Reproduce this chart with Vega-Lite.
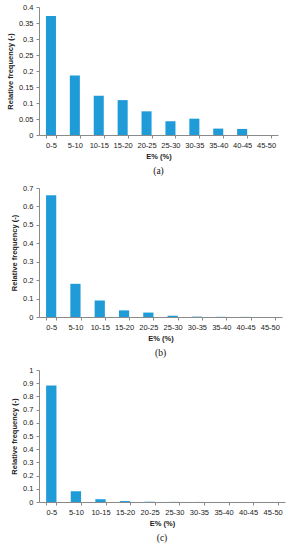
{
  "$schema": "https://vega.github.io/schema/vega-lite/v6.json",
  "padding": {"left": 6, "top": 3, "right": 4, "bottom": 2},
  "background": "white",
  "spacing": 8,
  "align": "none",
  "datasets": {
    "a": [
      {"bin": "0-5", "f": 0.372}, {"bin": "5-10", "f": 0.186}, {"bin": "10-15", "f": 0.123},
      {"bin": "15-20", "f": 0.109}, {"bin": "20-25", "f": 0.074}, {"bin": "25-30", "f": 0.043},
      {"bin": "30-35", "f": 0.051}, {"bin": "35-40", "f": 0.020}, {"bin": "40-45", "f": 0.019},
      {"bin": "45-50", "f": 0.0}
    ],
    "b": [
      {"bin": "0-5", "f": 0.66}, {"bin": "5-10", "f": 0.18}, {"bin": "10-15", "f": 0.089},
      {"bin": "15-20", "f": 0.036}, {"bin": "20-25", "f": 0.024}, {"bin": "25-30", "f": 0.007},
      {"bin": "30-35", "f": 0.002}, {"bin": "35-40", "f": 0.001}, {"bin": "40-45", "f": 0.0005},
      {"bin": "45-50", "f": 0.0}
    ],
    "c": [
      {"bin": "0-5", "f": 0.882}, {"bin": "5-10", "f": 0.081}, {"bin": "10-15", "f": 0.021},
      {"bin": "15-20", "f": 0.007}, {"bin": "20-25", "f": 0.002}, {"bin": "25-30", "f": 0.001},
      {"bin": "30-35", "f": 0.0005}, {"bin": "35-40", "f": 0.0}, {"bin": "40-45", "f": 0.0},
      {"bin": "45-50", "f": 0.0}
    ]
  },
  "config": {
    "view": {"stroke": null},
    "font": "Liberation Sans",
    "axis": {
      "grid": false,
      "domainColor": "#8a8a8a",
      "tickColor": "#8a8a8a",
      "labelColor": "#222",
      "labelFontSize": 7.5,
      "titleFontSize": 7.5,
      "titleFontWeight": "bold",
      "titleColor": "#222",
      "tickSize": 3,
      "labelPadding": 3
    },
    "title": {"font": "Liberation Serif", "fontSize": 9.5, "fontWeight": "normal", "color": "#111", "orient": "bottom", "offset": 6}
  },
  "vconcat": [
    {
      "title": "(a)",
      "width": 239, "height": 128,
      "data": {"name": "a"},
      "mark": {"type": "bar", "color": "#1f9bd8"},
      "encoding": {
        "x": {"field": "bin", "type": "nominal", "sort": null, "title": "E% (%)",
              "scale": {"paddingInner": 0.58, "paddingOuter": 0.29},
              "axis": {"labelAngle": 0, "tickBand": "extent", "titlePadding": 4}},
        "y": {"field": "f", "type": "quantitative", "title": "Relative frequency (-)",
              "scale": {"domain": [0, 0.4]}, "axis": {"values": [0, 0.05, 0.1, 0.15, 0.2, 0.25, 0.3, 0.35, 0.4], "format": "~g", "titlePadding": 4}}
      }
    },
    {
      "title": "(b)",
      "width": 243, "height": 129,
      "data": {"name": "b"},
      "mark": {"type": "bar", "color": "#1f9bd8"},
      "encoding": {
        "x": {"field": "bin", "type": "nominal", "sort": null, "title": "E% (%)",
              "scale": {"paddingInner": 0.58, "paddingOuter": 0.29},
              "axis": {"labelAngle": 0, "tickBand": "extent", "titlePadding": 4}},
        "y": {"field": "f", "type": "quantitative", "title": "Relative frequency (-)",
              "scale": {"domain": [0, 0.7]}, "axis": {"values": [0, 0.1, 0.2, 0.3, 0.4, 0.5, 0.6, 0.7], "format": "~g", "titlePadding": 4}}
      }
    },
    {
      "title": "(c)",
      "width": 246, "height": 132,
      "data": {"name": "c"},
      "mark": {"type": "bar", "color": "#1f9bd8"},
      "encoding": {
        "x": {"field": "bin", "type": "nominal", "sort": null, "title": "E% (%)",
              "scale": {"paddingInner": 0.58, "paddingOuter": 0.29},
              "axis": {"labelAngle": 0, "tickBand": "extent", "titlePadding": 4}},
        "y": {"field": "f", "type": "quantitative", "title": "Relative frequency (-)",
              "scale": {"domain": [0, 1]}, "axis": {"values": [0, 0.1, 0.2, 0.3, 0.4, 0.5, 0.6, 0.7, 0.8, 0.9, 1], "format": "~g", "titlePadding": 4}}
      }
    }
  ]
}
